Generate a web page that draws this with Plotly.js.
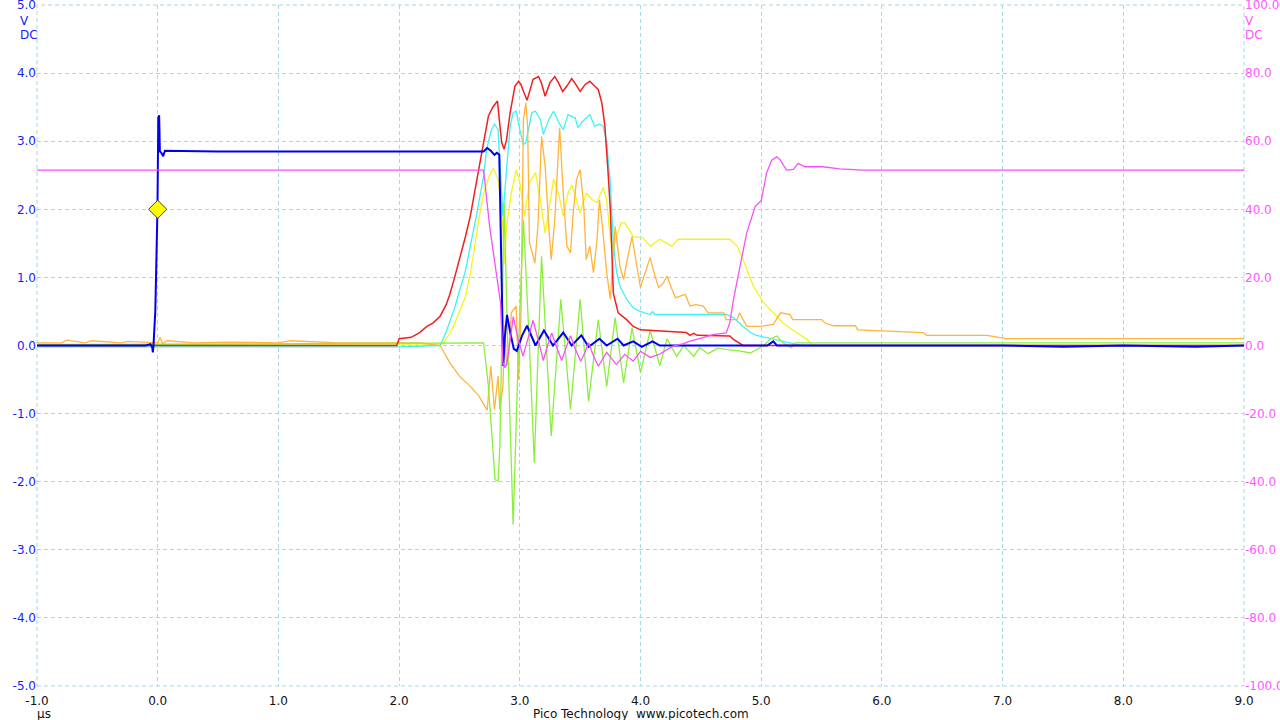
<!DOCTYPE html>
<html>
<head>
<meta charset="utf-8">
<script src="https://cdn.plot.ly/plotly-3.0.1.min.js"></script>
<style>html,body{margin:0;padding:0;background:#fff;}#chart{width:1280px;height:720px;}</style>
</head>
<body>
<div id="chart"></div>
<script>
// ---- Data (time in µs, values in V; magenta on right axis units) ----
const blue = [[-1.0,0.0],[-0.5,0.0],[-0.1,0.0],[-0.06,0.02],[-0.045,-0.03],[-0.04,-0.1],[-0.035,0.0],[-0.02,0.5],[-0.012,1.1],[-0.002,2.0],[0.005,3.35],[0.012,3.38],[0.018,2.85],[0.03,2.83],[0.045,2.78],[0.06,2.86],[0.5,2.85],[1.0,2.85],[1.5,2.85],[2.0,2.85],[2.5,2.85],[2.7,2.85],[2.73,2.9],[2.76,2.86],[2.79,2.80],[2.81,2.83],[2.83,2.80],[2.845,1.2],[2.863,-0.3],[2.875,0.1],[2.894,0.45],[2.92,0.2],[2.95,-0.05],[2.975,-0.08],[3.02,0.15],[3.06,0.29],[3.13,0.0],[3.2,0.22],[3.275,0.0],[3.36,0.19],[3.43,0.0],[3.51,0.15],[3.57,-0.02],[3.66,0.1],[3.72,0.0],[3.81,0.1],[3.86,0.0],[3.94,0.06],[4.01,-0.02],[4.10,0.06],[4.16,0.0],[4.3,0.0],[5.05,0.0],[5.10,0.06],[5.13,0.0],[6.0,0.0],[7.0,0.0],[7.5,-0.02],[8.0,0.0],[8.6,-0.02],[9.0,0.0]];

const magenta = [[-1.0,51.5],[0.0,51.5],[1.0,51.5],[2.0,51.5],[2.70,51.5],[2.75,35],[2.80,22.3],[2.84,12.6],[2.86,-5],[2.875,-6.5],[2.89,-5.6],[2.915,0],[2.946,8.5],[2.985,2],[3.027,-3.1],[3.07,2],[3.11,7.4],[3.15,2],[3.195,-4.4],[3.23,0],[3.264,3.7],[3.30,0],[3.347,-4.4],[3.38,-1],[3.42,2.9],[3.46,-1],[3.505,-4.6],[3.54,-2],[3.57,0.8],[3.61,-3],[3.65,-6.1],[3.72,-2],[3.80,-5.6],[3.87,-2.6],[3.94,-4.6],[4.0,-1.7],[4.08,-3.5],[4.16,-2.5],[4.27,-0.2],[4.35,0.5],[4.41,1.3],[4.49,2.0],[4.60,3.2],[4.71,3.7],[4.74,6.7],[4.77,13.5],[4.82,22],[4.88,33.1],[4.95,40.9],[5.0,42.5],[5.045,50.7],[5.087,54.4],[5.128,55.4],[5.156,54.6],[5.21,51.5],[5.267,51.7],[5.307,53.5],[5.36,52.5],[5.51,52.5],[5.65,51.9],[5.84,51.5],[6.5,51.5],[7.0,51.5],[7.5,51.5],[8.0,51.5],[8.5,51.5],[9.0,51.5]];

const red = [[-1.0,0.0],[1.98,0.0],[2.0,0.1],[2.1,0.12],[2.17,0.19],[2.23,0.28],[2.28,0.33],[2.34,0.43],[2.39,0.6],[2.42,0.75],[2.46,1.0],[2.50,1.25],[2.55,1.6],[2.59,1.9],[2.64,2.39],[2.70,2.98],[2.74,3.37],[2.78,3.51],[2.815,3.59],[2.83,3.32],[2.85,2.98],[2.87,2.88],[2.89,3.02],[2.92,3.42],[2.96,3.81],[2.99,3.88],[3.01,3.83],[3.035,3.71],[3.06,3.6],[3.11,3.91],[3.155,3.95],[3.18,3.85],[3.21,3.66],[3.25,3.86],[3.29,3.95],[3.32,3.86],[3.355,3.73],[3.39,3.81],[3.43,3.92],[3.465,3.83],[3.50,3.73],[3.54,3.83],[3.58,3.88],[3.62,3.81],[3.65,3.76],[3.68,3.56],[3.705,3.22],[3.73,2.58],[3.75,2.0],[3.775,0.77],[3.815,0.48],[3.885,0.38],[3.94,0.28],[4.0,0.23],[4.33,0.19],[4.38,0.19],[4.41,0.15],[4.44,0.18],[4.47,0.15],[4.74,0.14],[4.77,0.09],[4.85,0.0],[5.5,0.0],[6.0,0.0],[7.0,0.0],[8.0,0.0],[9.0,0.0]];

const cyan = [[-1.0,-0.02],[0.5,-0.02],[1.0,-0.02],[2.0,-0.02],[2.34,0.0],[2.39,0.2],[2.42,0.35],[2.46,0.55],[2.50,0.8],[2.55,1.1],[2.59,1.46],[2.64,1.9],[2.70,2.49],[2.725,2.88],[2.765,3.17],[2.79,3.25],[2.82,3.17],[2.835,2.73],[2.86,1.9],[2.89,2.58],[2.92,3.22],[2.945,3.42],[2.97,3.44],[3.0,3.17],[3.03,2.95],[3.05,2.98],[3.10,3.42],[3.13,3.44],[3.17,3.32],[3.195,3.10],[3.24,3.32],[3.28,3.44],[3.33,3.25],[3.36,3.17],[3.40,3.39],[3.46,3.34],[3.48,3.20],[3.52,3.29],[3.58,3.39],[3.62,3.22],[3.66,3.25],[3.69,3.22],[3.72,2.98],[3.75,2.39],[3.775,1.5],[3.80,1.1],[3.83,0.87],[3.885,0.68],[3.94,0.55],[3.995,0.50],[4.08,0.455],[4.10,0.5],[4.12,0.455],[4.71,0.455],[4.77,0.41],[4.85,0.28],[4.91,0.19],[4.96,0.15],[5.10,0.09],[5.21,0.05],[5.29,0.015],[5.35,0.0],[6.0,0.0],[7.0,0.0],[8.0,0.0],[9.0,0.0]];

const yellow = [[-1.0,0.02],[0.5,0.02],[2.0,0.02],[2.36,0.02],[2.42,0.18],[2.45,0.28],[2.50,0.5],[2.55,0.72],[2.59,1.05],[2.64,1.6],[2.67,1.95],[2.71,2.3],[2.75,2.5],[2.78,2.6],[2.82,2.44],[2.85,2.0],[2.875,1.2],[2.89,1.75],[2.93,2.24],[2.97,2.58],[3.0,2.39],[3.04,1.9],[3.08,2.39],[3.13,2.54],[3.17,2.14],[3.21,1.65],[3.25,2.14],[3.28,2.44],[3.32,2.24],[3.36,1.9],[3.40,2.24],[3.43,2.36],[3.47,2.14],[3.50,1.95],[3.55,2.24],[3.60,2.14],[3.64,2.10],[3.69,2.32],[3.72,2.14],[3.75,1.56],[3.775,1.41],[3.80,1.60],[3.84,1.80],[3.87,1.80],[3.94,1.60],[4.02,1.58],[4.08,1.46],[4.16,1.56],[4.26,1.46],[4.31,1.56],[4.44,1.56],[4.74,1.56],[4.80,1.46],[4.85,1.26],[4.935,0.87],[5.02,0.63],[5.10,0.48],[5.18,0.33],[5.29,0.19],[5.38,0.09],[5.43,0.0],[6.0,0.0],[7.0,0.0],[8.0,0.0],[9.0,0.0]];

const orange = [[-1.0,0.04],[-0.8,0.04],[-0.75,0.08],[-0.6,0.04],[-0.55,0.07],[-0.3,0.04],[-0.25,0.06],[0.0,0.04],[0.02,0.12],[0.04,0.03],[0.08,0.07],[0.3,0.04],[0.6,0.05],[1.0,0.04],[1.1,0.07],[1.5,0.04],[2.0,0.04],[2.17,0.04],[2.34,0.0],[2.42,-0.25],[2.50,-0.45],[2.59,-0.60],[2.66,-0.74],[2.71,-0.89],[2.73,-0.95],[2.76,-0.30],[2.79,-0.94],[2.82,-0.45],[2.835,-0.94],[2.86,-0.6],[2.875,0.3],[2.89,-0.3],[2.905,-0.2],[2.93,0.48],[2.97,0.58],[2.99,-0.5],[3.01,0.5],[3.03,3.32],[3.05,3.56],[3.065,3.22],[3.08,1.51],[3.125,1.21],[3.15,1.75],[3.18,3.07],[3.21,2.63],[3.24,1.75],[3.26,1.26],[3.29,1.85],[3.33,3.2],[3.36,2.24],[3.39,1.46],[3.42,1.36],[3.44,1.90],[3.47,2.44],[3.50,2.58],[3.53,2.05],[3.55,1.26],[3.58,1.46],[3.61,1.07],[3.64,1.56],[3.66,2.14],[3.69,1.65],[3.72,1.07],[3.75,0.68],[3.79,1.75],[3.83,1.16],[3.86,0.97],[3.89,1.26],[3.93,1.60],[3.97,1.16],[4.0,0.85],[4.03,1.02],[4.08,1.29],[4.12,1.02],[4.15,0.85],[4.19,0.92],[4.22,1.02],[4.25,0.87],[4.29,0.70],[4.37,0.75],[4.41,0.58],[4.46,0.60],[4.52,0.58],[4.56,0.48],[4.69,0.48],[4.71,0.38],[4.80,0.38],[4.82,0.48],[4.85,0.38],[4.88,0.28],[4.99,0.28],[5.1,0.31],[5.16,0.48],[5.24,0.455],[5.26,0.38],[5.50,0.38],[5.53,0.33],[5.60,0.29],[5.78,0.29],[5.80,0.23],[6.34,0.19],[6.37,0.15],[6.87,0.15],[7.03,0.10],[9.0,0.10]];

const green = [[-1.0,0.01],[0.0,0.02],[1.0,0.02],[2.0,0.03],[2.5,0.04],[2.70,0.04],[2.74,-0.6],[2.77,-1.28],[2.795,-1.97],[2.82,-1.99],[2.835,-1.48],[2.87,2.1],[2.90,0.0],[2.945,-2.63],[2.99,0.0],[3.03,1.85],[3.08,0.0],[3.12,-1.72],[3.18,1.31],[3.26,-1.33],[3.34,0.68],[3.42,-0.94],[3.50,0.68],[3.57,-0.82],[3.65,0.38],[3.72,-0.60],[3.79,0.41],[3.86,-0.55],[3.93,0.26],[4.0,-0.40],[4.08,0.22],[4.16,-0.30],[4.22,0.1],[4.30,-0.16],[4.36,0.0],[4.44,-0.16],[4.49,-0.03],[4.56,-0.12],[4.64,-0.04],[4.72,-0.06],[4.82,-0.08],[4.91,-0.11],[4.96,-0.06],[5.02,0.0],[5.08,0.1],[5.13,0.14],[5.18,0.04],[5.25,-0.03],[5.28,0.04],[5.32,0.04],[9.0,0.04]];

const trigger = [[0.0, 2.0]];

const xTickVals = [-1,0,1,2,3,4,5,6,7,8,9];
const xTickText = ['-1.0','0.0','1.0','2.0','3.0','4.0','5.0','6.0','7.0','8.0','9.0'];
const yTickVals = [-5,-4,-3,-2,-1,0,1,2,3,4,5];
const yTickText = ['-5.0','-4.0','-3.0','-2.0','-1.0','0.0','1.0','2.0','3.0','4.0','5.0'];
const y2TickVals = [-100,-80,-60,-40,-20,0,20,40,60,80,100];
const y2TickText = ['-100.0','-80.0','-60.0','-40.0','-20.0','0.0','20.0','40.0','60.0','80.0','100.0'];

// ---- Build traces ----
function tr(data, color, width, axis) {
  return {
    x: data.map(p => p[0]), y: data.map(p => p[1]),
    type: 'scatter', mode: 'lines', yaxis: axis || 'y',
    line: {color: color, width: width}, hoverinfo: 'skip'
  };
}
const traces = [
  tr(yellow, '#f4f41c', 1.3),
  tr(cyan, '#3ef2f2', 1.3),
  tr(orange, '#ffb43c', 1.3),
  tr(green, '#8cee3c', 1.3),
  tr(red, '#f02020', 1.5),
  tr(magenta, '#f850f8', 1.3, 'y2'),
  tr(blue, '#0000f0', 2),
  {x: trigger.map(p => p[0]), y: trigger.map(p => p[1]), type: 'scatter', mode: 'markers',
   marker: {symbol: 'diamond', size: 14, color: '#ffff00', line: {color: '#3a3a60', width: 1}}, hoverinfo: 'skip'}
];

// plot area in pixels
const L = 37, R = 1244, T = 5, B = 686;
const px = x => (x - L) / (R - L);
const py = y => (B - y) / (B - T);
const blueText = '#1a1aff', magText = '#ff55ff';
const F = 'DejaVu Sans, sans-serif';
const gridColor = '#a6d8e6', gridDash = '4px,3px';

const grid = {showgrid: true, gridcolor: gridColor, gridwidth: 1, griddash: gridDash, zeroline: false, showline: false, ticks: '', fixedrange: true, ticklabeloverflow: 'allow'};

const layout = {
  width: 1280, height: 720,
  margin: {l: L, r: 1280 - R, t: T, b: 720 - B, pad: 0},
  paper_bgcolor: '#ffffff', plot_bgcolor: '#ffffff',
  showlegend: false,
  font: {family: F, size: 12},
  xaxis: Object.assign({}, grid, {range: [-1, 9], tickmode: 'array', tickvals: xTickVals, ticktext: xTickText, ticklabelstandoff: 6, tickfont: {family: F, size: 12, color: '#111111'}}),
  yaxis: Object.assign({}, grid, {range: [-5, 5], tickmode: 'array', tickvals: yTickVals, ticktext: yTickText, tickfont: {family: F, size: 12, color: blueText}}),
  yaxis2: Object.assign({}, grid, {range: [-100, 100], overlaying: 'y', side: 'right', showgrid: false, tickmode: 'array', tickvals: y2TickVals, ticktext: y2TickText, tickfont: {family: F, size: 12, color: magText}}),
  shapes: [
    {type: 'rect', xref: 'paper', yref: 'paper', x0: 0, x1: 1, y0: 0, y1: 1, layer: 'below', line: {color: gridColor, width: 1, dash: gridDash}}
  ],
  annotations: [
    {text: 'V', x: px(24.7), y: py(21), xref: 'paper', yref: 'paper', showarrow: false, xanchor: 'center', yanchor: 'middle', font: {family: F, size: 12, color: blueText}},
    {text: 'DC', x: px(29.2), y: py(35), xref: 'paper', yref: 'paper', showarrow: false, xanchor: 'center', yanchor: 'middle', font: {family: F, size: 12, color: blueText}},
    {text: 'V', x: px(1249.7), y: py(21), xref: 'paper', yref: 'paper', showarrow: false, xanchor: 'center', yanchor: 'middle', font: {family: F, size: 12, color: magText}},
    {text: 'DC', x: px(1254.2), y: py(35), xref: 'paper', yref: 'paper', showarrow: false, xanchor: 'center', yanchor: 'middle', font: {family: F, size: 12, color: magText}},
    {text: 'µs', x: px(43.7), y: py(714), xref: 'paper', yref: 'paper', showarrow: false, xanchor: 'center', yanchor: 'middle', font: {family: F, size: 12, color: '#111111'}},
    {text: 'Pico Technology  www.picotech.com', x: px(640.5), y: py(714), xref: 'paper', yref: 'paper', showarrow: false, xanchor: 'center', yanchor: 'middle', font: {family: F, size: 12, color: '#111111'}}
  ]
};

Plotly.newPlot('chart', traces, layout, {staticPlot: true, displayModeBar: false});
</script>
</body>
</html>
